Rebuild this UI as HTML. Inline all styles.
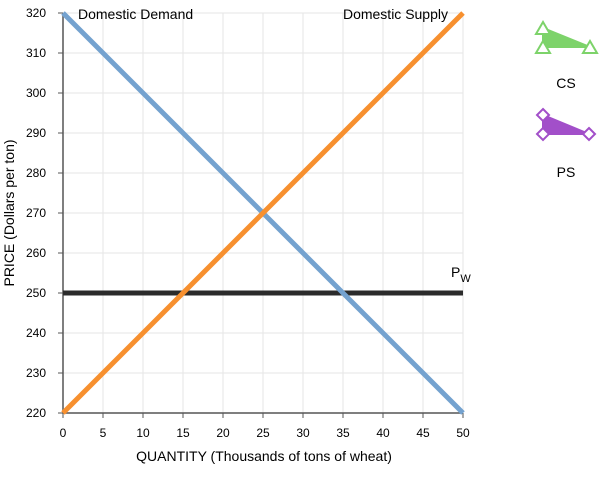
<!DOCTYPE html>
<html><head><meta charset="utf-8"><style>
body{margin:0;background:#fff;font-family:"Liberation Sans",Arial,sans-serif;}
svg text{font-family:"Liberation Sans",Arial,sans-serif;}
</style></head><body>
<svg id="chart" width="607" height="474">
<g id="grid"></g><g id="axes"></g><g id="series"></g>
<g>
 <g>
  <polygon points="543,28 543,47 590,47" fill="#7dd36a" stroke="#7dd36a" stroke-width="2"/>
  <polygon points="543,22 536,34 550,34" fill="#fff" stroke="#7dd36a" stroke-width="2"/>
  <polygon points="543,41 536,53 550,53" fill="#fff" stroke="#7dd36a" stroke-width="2"/>
  <polygon points="590,41 583,53 597,53" fill="#fff" stroke="#7dd36a" stroke-width="2"/>
  <text x="566" y="88" font-size="14" text-anchor="middle">CS</text>
 </g>
 <g>
  <polygon points="543,115 543,134 589,134" fill="#a24fc9" stroke="#a24fc9" stroke-width="2"/>
  <polygon points="543,109 549,115 543,121 537,115" fill="#fff" stroke="#a24fc9" stroke-width="2"/>
  <polygon points="543,128 549,134 543,140 537,134" fill="#fff" stroke="#a24fc9" stroke-width="2"/>
  <polygon points="589,128 595,134 589,140 583,134" fill="#fff" stroke="#a24fc9" stroke-width="2"/>
  <text x="566" y="177" font-size="14" text-anchor="middle">PS</text>
 </g>
</g>
<text x="264" y="461" font-size="14" text-anchor="middle">QUANTITY (Thousands of tons of wheat)</text>
<text transform="translate(14,213) rotate(-90)" font-size="14" text-anchor="middle">PRICE (Dollars per ton)</text>
</svg>
<script>
const xTicks=[0,5,10,15,20,25,30,35,40,45,50];
const yTicks=[220,230,240,250,260,270,280,290,300,310,320];
const demandQ=[0,50];const demandP=[320,220];
const supplyQ=[0,50];const supplyP=[220,320];
const worldQ=[0,50];const worldP=[250,250];
const X0=63,X1=463,Y0=413,Y1=13;
const sx=q=>X0+(q-0)/(50-0)*(X1-X0);
const sy=p=>Y0-(p-220)/(320-220)*(Y0-Y1);
const NS='http://www.w3.org/2000/svg';
function mk(tag,attrs,parent){const e=document.createElementNS(NS,tag);for(const k in attrs)e.setAttribute(k,attrs[k]);parent.appendChild(e);return e;}
const grid=document.getElementById('grid'),axes=document.getElementById('axes'),ser=document.getElementById('series');
xTicks.forEach(t=>{
 const g=mk('line',{x1:sx(t),x2:sx(t),y1:Y1,y2:Y0,stroke:'#e6e6e6'},grid);
 
 
 const tk=mk('line',{x1:sx(t),x2:sx(t),y1:Y0,y2:Y0+5,stroke:'#555'},axes);
 
 
 const l=mk('text',{x:sx(t),y:Y0+24,'font-size':12,'text-anchor':'middle'},axes);l.textContent=t;
 
 
});
yTicks.forEach(t=>{
 const g=mk('line',{x1:X0,x2:X1,y1:sy(t),y2:sy(t),stroke:'#e6e6e6'},grid);
 
 
 const tk=mk('line',{x1:X0-5,x2:X0,y1:sy(t),y2:sy(t),stroke:'#555'},axes);
 
 
 const l=mk('text',{x:X0-17,y:sy(t)+4,'font-size':12,'text-anchor':'end'},axes);l.textContent=t;
 
 
});
const ax=mk('path',{d:`M${X0},${Y1}V${Y0}H${X1}`,stroke:'#555',fill:'none','stroke-width':1.5},axes);


function line(qs,ps,color,w,name){
 const d=qs.map((q,i)=>(i?'L':'M')+sx(q)+','+sy(ps[i])).join('');
 const p=mk('path',{d:d,stroke:color,'stroke-width':w,fill:'none'},ser);
 
 
}
line(worldQ,worldP,'#2b2b2b',5,'world-price-line');
line(demandQ,demandP,'#74a2cf',5,'domestic-demand-line');
line(supplyQ,supplyP,'#f7902f',5,'domestic-supply-line');
const t1=mk('text',{x:78,y:19,'font-size':14},ser);t1.textContent='Domestic Demand';


const t2=mk('text',{x:448,y:19,'font-size':14,'text-anchor':'end'},ser);t2.textContent='Domestic Supply';


const t3=mk('text',{x:451,y:sy(250)-16,'font-size':14},ser);t3.innerHTML='P<tspan font-size="11" dy="5">W</tspan>';


</script>
</body></html>
